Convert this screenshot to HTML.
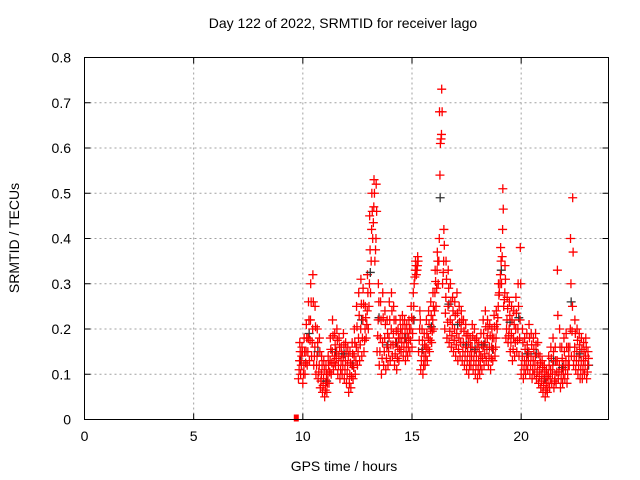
<!DOCTYPE html>
<html><head><meta charset="utf-8"><style>
body{margin:0;background:#fff}
svg{display:block;font-family:"Liberation Sans",sans-serif}
</style></head><body>
<svg id="chart" width="640" height="480">
<text x="343" y="28" text-anchor="middle" font-size="14">Day 122 of 2022, SRMTID for receiver lago</text>
<text x="344" y="471" text-anchor="middle" font-size="14">GPS time / hours</text>
<text transform="translate(19,238) rotate(-90)" text-anchor="middle" font-size="14">SRMTID / TECUs</text>
<g id="grid"></g><g id="marks"></g>
<rect x="84.5" y="57.5" width="524" height="362" fill="none" stroke="#000" stroke-width="1"/>
<g id="ticks"></g>
</svg>
<script>
const xTicks=[0,5,10,15,20];
const yTicks=[0,0.1,0.2,0.3,0.4,0.5,0.6,0.7,0.8];
const yTickLabels=["0","0.1","0.2","0.3","0.4","0.5","0.6","0.7","0.8"];
const tStart=9.8, tStep=0.1;
const lowVals=[.09,.10,.08,.10,.12,.13,.14,.12,.10,.09,
.07,.06,.05,.06,.08,.10,.11,.12,.10,.09,
.10,.09,.08,.06,.07,.09,.10,.12,.13,.14,
.15,.18,.20,.28,.40,.35,.15,.12,.10,.12,
.11,.12,.13,.14,.12,.11,.13,.15,.14,.13,
.14,.15,.16,.30,.32,.15,.11,.10,.12,.13,
.15,.17,.20,.25,.30,.61,.30,.20,.18,.17,
.16,.15,.14,.13,.14,.13,.12,.11,.10,.12,
.11,.10,.09,.10,.11,.12,.13,.12,.11,.13,
.14,.20,.28,.30,.25,.18,.17,.15,.13,.14,
.15,.14,.10,.09,.10,.11,.10,.09,.10,.09,
.08,.07,.06,.05,.06,.07,.08,.07,.08,.09,
.07,.08,.09,.08,.12,.14,.12,.11,.10,.09,
.09,.10,.09];
const midVals=[.13,.14,.12,.15,.18,.22,.20,.16,.14,.12,
.10,.09,.08,.10,.13,.15,.14,.15,.14,.13,
.14,.13,.12,.10,.12,.14,.16,.18,.20,.22,
.20,.24,.30,.42,.47,.40,.22,.18,.17,.18,
.16,.18,.20,.19,.17,.16,.18,.19,.18,.17,
.18,.20,.22,.33,.34,.20,.15,.14,.16,.18,
.20,.22,.28,.33,.40,.63,.35,.27,.25,.22,
.21,.20,.19,.18,.20,.17,.16,.15,.14,.16,
.15,.14,.13,.14,.16,.17,.18,.16,.16,.18,
.18,.25,.32,.42,.28,.22,.20,.19,.18,.20,
.20,.22,.14,.13,.14,.15,.14,.13,.14,.12,
.11,.10,.09,.08,.10,.11,.12,.10,.13,.12,
.11,.12,.13,.12,.20,.25,.16,.15,.14,.13,
.13,.14,.12];
const highVals=[.17,.16,.18,.21,.26,.30,.32,.25,.20,.18,
.14,.13,.12,.14,.18,.22,.19,.20,.18,.16,
.19,.17,.16,.15,.17,.20,.25,.28,.31,.29,
.25,.32,.45,.50,.53,.52,.30,.26,.28,.24,
.22,.26,.28,.25,.22,.20,.22,.23,.22,.21,
.22,.25,.28,.35,.36,.24,.20,.19,.22,.24,
.26,.28,.33,.37,.68,.73,.42,.35,.33,.30,
.27,.26,.28,.25,.24,.22,.21,.19,.18,.21,
.20,.18,.17,.19,.22,.24,.22,.21,.20,.23,
.24,.30,.38,.51,.34,.27,.26,.25,.24,.27,
.30,.38,.20,.18,.19,.21,.19,.18,.19,.17,
.14,.13,.12,.11,.14,.16,.18,.16,.33,.20,
.16,.18,.19,.16,.40,.49,.22,.20,.19,.18,
.17,.18,.15];
const zeroPointT=9.7, zeroPointV=0;

const X0=84.5,X1=608.5,Y0=419.5,Y1=57.5;
const sx=t=>X0+(t/24)*(X1-X0);
const sy=v=>Y0-(v/0.8)*(Y0-Y1);
const NS="http://www.w3.org/2000/svg";
const grid=document.getElementById('grid'),ticks=document.getElementById('ticks'),marks=document.getElementById('marks');
function mk(tag,attrs,parent){const e=document.createElementNS(NS,tag);for(const k in attrs)e.setAttribute(k,attrs[k]);parent.appendChild(e);return e;}
xTicks.forEach(t=>{const x=sx(t);
 if(t>0){const g=mk('line',{x1:x,x2:x,y1:Y0,y2:Y1,stroke:'#a0a0a0','stroke-dasharray':'2,3'},grid);
 
 }
 mk('line',{x1:x,x2:x,y1:Y0,y2:Y0-6,stroke:'#000'},ticks);
 mk('line',{x1:x,x2:x,y1:Y1,y2:Y1+6,stroke:'#000'},ticks);
 const l=mk('text',{x:x,y:441,'text-anchor':'middle','font-size':14},ticks);l.textContent=t;
 
 });
yTicks.forEach((v,i)=>{const y=sy(v);
 if(v>0&&v<0.8){const g=mk('line',{x1:X0,x2:X1,y1:y,y2:y,stroke:'#a0a0a0','stroke-dasharray':'2,3'},grid);
 
 }
 mk('line',{x1:X0,x2:X0+6,y1:y,y2:y,stroke:'#000'},ticks);
 mk('line',{x1:X1,x2:X1-6,y1:y,y2:y,stroke:'#000'},ticks);
 const l=mk('text',{x:71,y:y+5,'text-anchor':'end','font-size':14},ticks);l.textContent=yTickLabels[i];
 
 });
function plus(t,v,color){const x=sx(t),y=sy(v);
 const p=mk('path',{d:`M${x-4.5},${y}H${x+4.5}M${x},${y-4.5}V${y+4.5}`,stroke:color,'stroke-width':1.3,fill:'none'},marks);
 
 }
lowVals.forEach((lo,i)=>{const t=tStart+i*tStep,m=midVals[i],h=highVals[i];
 if(i%4===0)plus(t+0.09,(lo+h)/2,'#333');
 plus(t,lo,'#f00');plus(t+0.03,(lo+m)/2,'#f00');plus(t+0.05,m,'#f00');plus(t+0.08,(m+h)/2,'#f00');plus(t+0.06,h,'#f00');});
const z=mk('rect',{x:sx(zeroPointT)-2.5,y:sy(zeroPointV)-5,width:5,height:7,fill:'#f00'},marks);


</script>
</body></html>
